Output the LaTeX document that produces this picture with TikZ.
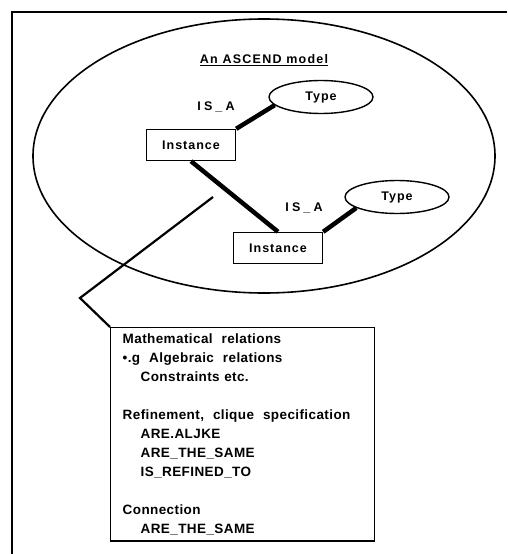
\documentclass[tikz,border=0pt]{standalone}
\usepackage{fontspec}
\setmainfont{Liberation Sans}
\usetikzlibrary{shapes.geometric}

\tikzset{
  piccolo/.style={font=\fontsize{12.5}{15}\selectfont\bfseries\addfontfeatures{LetterSpace=8}},
  istanza/.style={piccolo, draw, line width=1.4pt, minimum width=89pt, minimum height=31pt, inner sep=0pt},
  tipo/.style={piccolo, draw, ellipse, line width=1.4pt, minimum width=104pt, minimum height=33pt, inner sep=0pt},
  etichetta/.style={font=\fontsize{12.5}{15}\selectfont\bfseries\addfontfeatures{LetterSpace=25}},
  legame/.style={line width=4.5pt},
}

\begin{document}
\begin{tikzpicture}[x=1pt, y=-1pt]

        % 1. Area del disegno e cornice esterna
        \useasboundingbox (0,0) rectangle (507,554);
        \draw[line width=1.6pt] (12,554) -- (12,12) -- (507,12);

        % 2. Il modello: ellisse grande con titolo sottolineato
        \node (modello) [draw, ellipse, line width=1.6pt, minimum width=462pt, minimum height=274pt] at (264,156) {};
        \node (titolo) [font=\fontsize{12.5}{15}\selectfont\bfseries\addfontfeatures{LetterSpace=10}] at (264,60) {\underline{An ASCEND model}};

        % 3. Istanze e tipi
        \node (tipo1) [tipo] at (321,97) {Type};
        \node (ist1) [istanza] at (191,145) {Instance};
        \node (tipo2) [tipo] at (397,197) {Type};
        \node (ist2) [istanza] at (278,248) {Instance};

        % 4. Legami IS_A e legame tra le istanze
        \draw[legame] (ist1.north east) -- (tipo1.190);
        \draw[legame] (ist2.north east) -- (tipo2.195);
        \draw[legame] (ist1.south) -- (ist2.north);
        \node (isa1) [etichetta] at (216,107) {IS\_A};
        \node (isa2) [etichetta] at (304,208) {IS\_A};

        % 5. Riquadro con le relazioni
        \node (note) [anchor=north west, draw, line width=1.4pt, text width=240pt, inner xsep=12pt, inner ysep=6pt, align=left, font=\fontsize{13.5}{19}\selectfont\bfseries\addfontfeatures{LetterSpace=3}] at (110,327)
          {Mathematical\ \ relations\\
           •.g\ \ Algebraic\ \ relations\\
           \hspace*{18pt}Constraints etc.\\[19pt]
           Refinement,\ \ clique\ \ specification\\
           \hspace*{18pt}ARE.ALJKE\\
           \hspace*{18pt}ARE\_THE\_SAME\\
           \hspace*{18pt}IS\_REFINED\_TO\\[19pt]
           Connection\\
           \hspace*{18pt}ARE\_THE\_SAME};

        % 6. Linea spezzata dal modello al riquadro
        \coordinate (aggancio) at (213,197);
        \coordinate (gomito) at (80,298);
        \draw[line width=2.2pt] (aggancio) -- (gomito) -- (note.north west);

    \end{tikzpicture}
\end{document}
